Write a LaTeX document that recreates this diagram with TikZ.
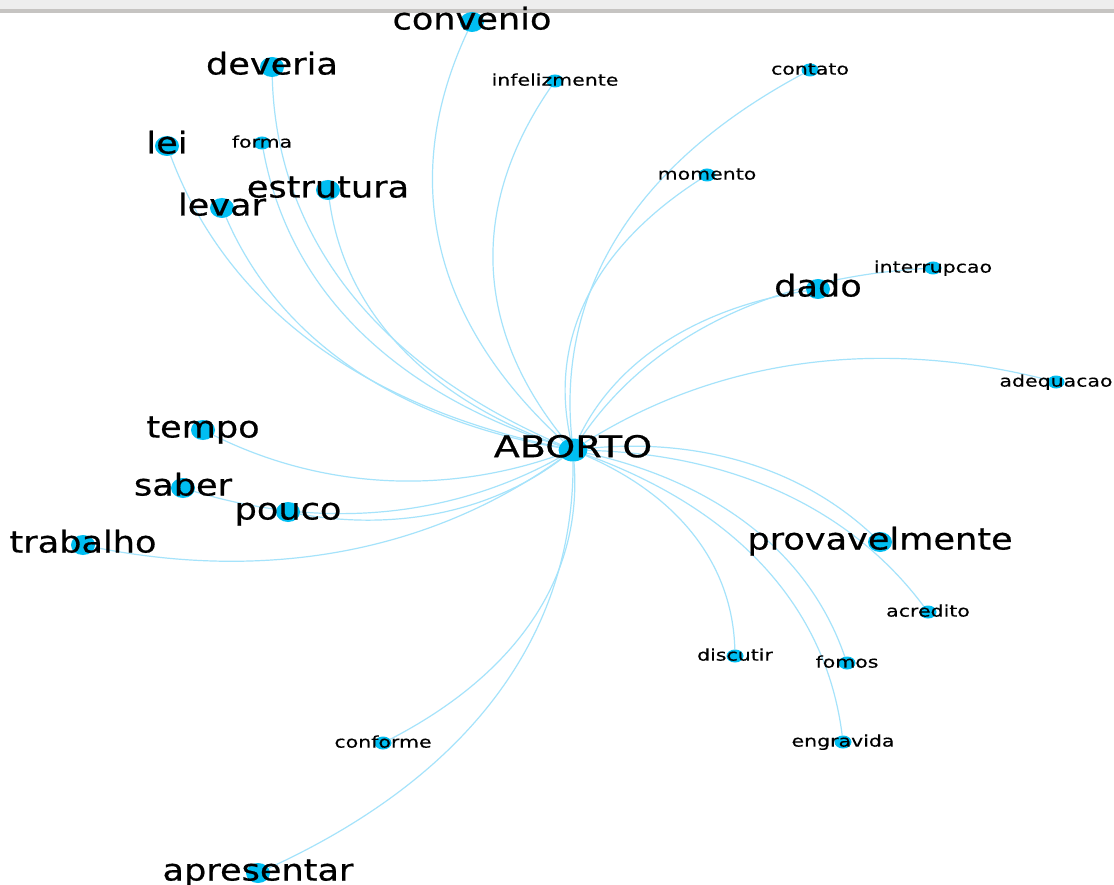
\documentclass[tikz,border=0pt]{standalone}
\usepackage{fontspec}
\usetikzlibrary{shapes.geometric,calc,backgrounds}
\newfontfamily\rootfont[FakeStretch=1.27,FakeBold=0.6]{DejaVu Sans}
\newfontfamily\bigfont[FakeStretch=1.17,FakeBold=0.6]{DejaVu Sans}
\newfontfamily\smallfont[FakeStretch=1.28,FakeBold=0.4]{DejaVu Sans}
\definecolor{dotblue}{RGB}{0,190,242}
\definecolor{edgeblue}{RGB}{165,227,251}
\definecolor{topgray}{RGB}{238,238,238}
\definecolor{linegray}{RGB}{198,196,194}
\tikzset{
  edge/.style={draw=edgeblue, line width=1.2pt},
  rootdot/.style={ellipse, fill=dotblue, minimum width=29pt, minimum height=23pt, inner sep=0pt},
  bigdot/.style={ellipse, fill=dotblue, minimum width=24pt, minimum height=20pt, inner sep=0pt},
  smalldot/.style={ellipse, fill=dotblue, minimum width=17pt, minimum height=13pt, inner sep=0pt},
  rootlbl/.style={inner sep=0pt, font=\rootfont\fontsize{30}{32}\selectfont, text height=22.2pt, text depth=7.8pt},
  biglbl/.style={inner sep=0pt, font=\bigfont\fontsize{30}{32}\selectfont, text height=22.5pt, text depth=7.5pt},
  smalllbl/.style={inner sep=0pt, font=\smallfont\fontsize{16}{18}\selectfont, text height=12.6pt, text depth=3.4pt},
}
\begin{document}
\begin{tikzpicture}[x=1pt,y=-1pt]
\useasboundingbox (0,0) rectangle (1114,885);
% dots
\node[rootdot] (ab) at (573,450) {};
\node[bigdot] (convenio) at (472,22) {};
\node[bigdot] (deveria) at (272,67) {};
\node[bigdot] (lei) at (167,146) {};
\node[smalldot] (forma) at (262,143) {};
\node[bigdot] (estrutura) at (328,190) {};
\node[bigdot] (levar) at (222,208) {};
\node[smalldot] (infelizmente) at (555,81) {};
\node[smalldot] (contato) at (810,70) {};
\node[smalldot] (momento) at (707,175) {};
\node[smalldot] (interrupcao) at (933,268) {};
\node[bigdot] (dado) at (818,289) {};
\node[smalldot] (adequacao) at (1056,382) {};
\node[bigdot] (tempo) at (203,430) {};
\node[bigdot] (saber) at (183,488) {};
\node[bigdot] (pouco) at (288,512) {};
\node[bigdot] (trabalho) at (83,545) {};
\node[bigdot] (provavelmente) at (880,542) {};
\node[smalldot] (acredito) at (928,612) {};
\node[smalldot] (discutir) at (735,656) {};
\node[smalldot] (fomos) at (847,663) {};
\node[smalldot] (engravida) at (843,742) {};
\node[smalldot] (conforme) at (383,743) {};
\node[bigdot] (apresentar) at (258,873) {};
% labels
\node[rootlbl] (ab-t) at (573,450) {ABORTO};
\node[biglbl] (convenio-t) at (472,22) {convenio};
\node[biglbl] (deveria-t) at (272,67) {deveria};
\node[biglbl] (lei-t) at (167,146) {lei};
\node[smalllbl] (forma-t) at (262,143) {forma};
\node[biglbl] (estrutura-t) at (328,190) {estrutura};
\node[biglbl] (levar-t) at (222,208) {levar};
\node[smalllbl] (infelizmente-t) at (555,81) {infelizmente};
\node[smalllbl] (contato-t) at (810,70) {contato};
\node[smalllbl] (momento-t) at (707,175) {momento};
\node[smalllbl] (interrupcao-t) at (933,268) {interrupcao};
\node[biglbl] (dado-t) at (818,289) {dado};
\node[smalllbl] (adequacao-t) at (1056,382) {adequacao};
\node[biglbl] (tempo-t) at (203,430) {tempo};
\node[biglbl] (saber-t) at (183,488) {saber};
\node[biglbl] (pouco-t) at (288,512) {pouco};
\node[biglbl] (trabalho-t) at (83,545) {trabalho};
\node[biglbl] (provavelmente-t) at (880,542) {provavelmente};
\node[smalllbl] (acredito-t) at (928,612) {acredito};
\node[smalllbl] (discutir-t) at (735,656) {discutir};
\node[smalllbl] (fomos-t) at (847,663) {fomos};
\node[smalllbl] (engravida-t) at (843,742) {engravida};
\node[smalllbl] (conforme-t) at (383,743) {conforme};
\node[biglbl] (apresentar-t) at (258,873) {apresentar};
% control points of the curved edges
\coordinate (c-convenio) at (361.6,257.4);
\coordinate (c-deveria) at (278.5,322.2);
\coordinate (c-lei) at (255.7,383.9);
\coordinate (c-forma) at (302.1,362.3);
\coordinate (c-estrutura) at (352.7,371.8);
\coordinate (c-levar) at (306.5,403.2);
\coordinate (c-infelizmente) at (425.3,269.3);
\coordinate (c-contato) at (548.6,209.9);
\coordinate (c-momento) at (536.6,284.2);
\coordinate (c-interrupcao) at (684.6,282.9);
\coordinate (c-dado) at (635,317.7);
\coordinate (c-adequacao) at (788.9,313.8);
\coordinate (c-tempo) at (380.5,518.3);
\coordinate (c-saber) at (392.3,551.5);
\coordinate (c-pouco) at (453.8,541.3);
\coordinate (c-trabalho) at (363.7,601.1);
\coordinate (c-provavelmente) at (760.7,430.6);
\coordinate (c-acredito) at (811.4,455.9);
\coordinate (c-discutir) at (731.5,518.7);
\coordinate (c-fomos) at (790.1,498.5);
\coordinate (c-engravida) at (817.8,538.9);
\coordinate (c-conforme) at (588.2,636.7);
\coordinate (c-apresentar) at (574.5,728.1);
\begin{scope}[on background layer]
  \fill[white] (0,0) rectangle (1114,885);
  \fill[topgray] (0,0) rectangle (1114,9);
  \fill[linegray] (0,9) rectangle (1114,13);
  \foreach \n in {convenio,deveria,lei,forma,estrutura,levar,infelizmente,contato,momento,interrupcao,dado,adequacao,tempo,saber,pouco,trabalho,provavelmente,acredito,discutir,fomos,engravida,conforme,apresentar}{
    \draw[edge] (ab) .. controls ($(ab)!0.6667!(c-\n)$) and ($(\n)!0.6667!(c-\n)$) .. (\n);
  }
\end{scope}
\end{tikzpicture}
\end{document}
